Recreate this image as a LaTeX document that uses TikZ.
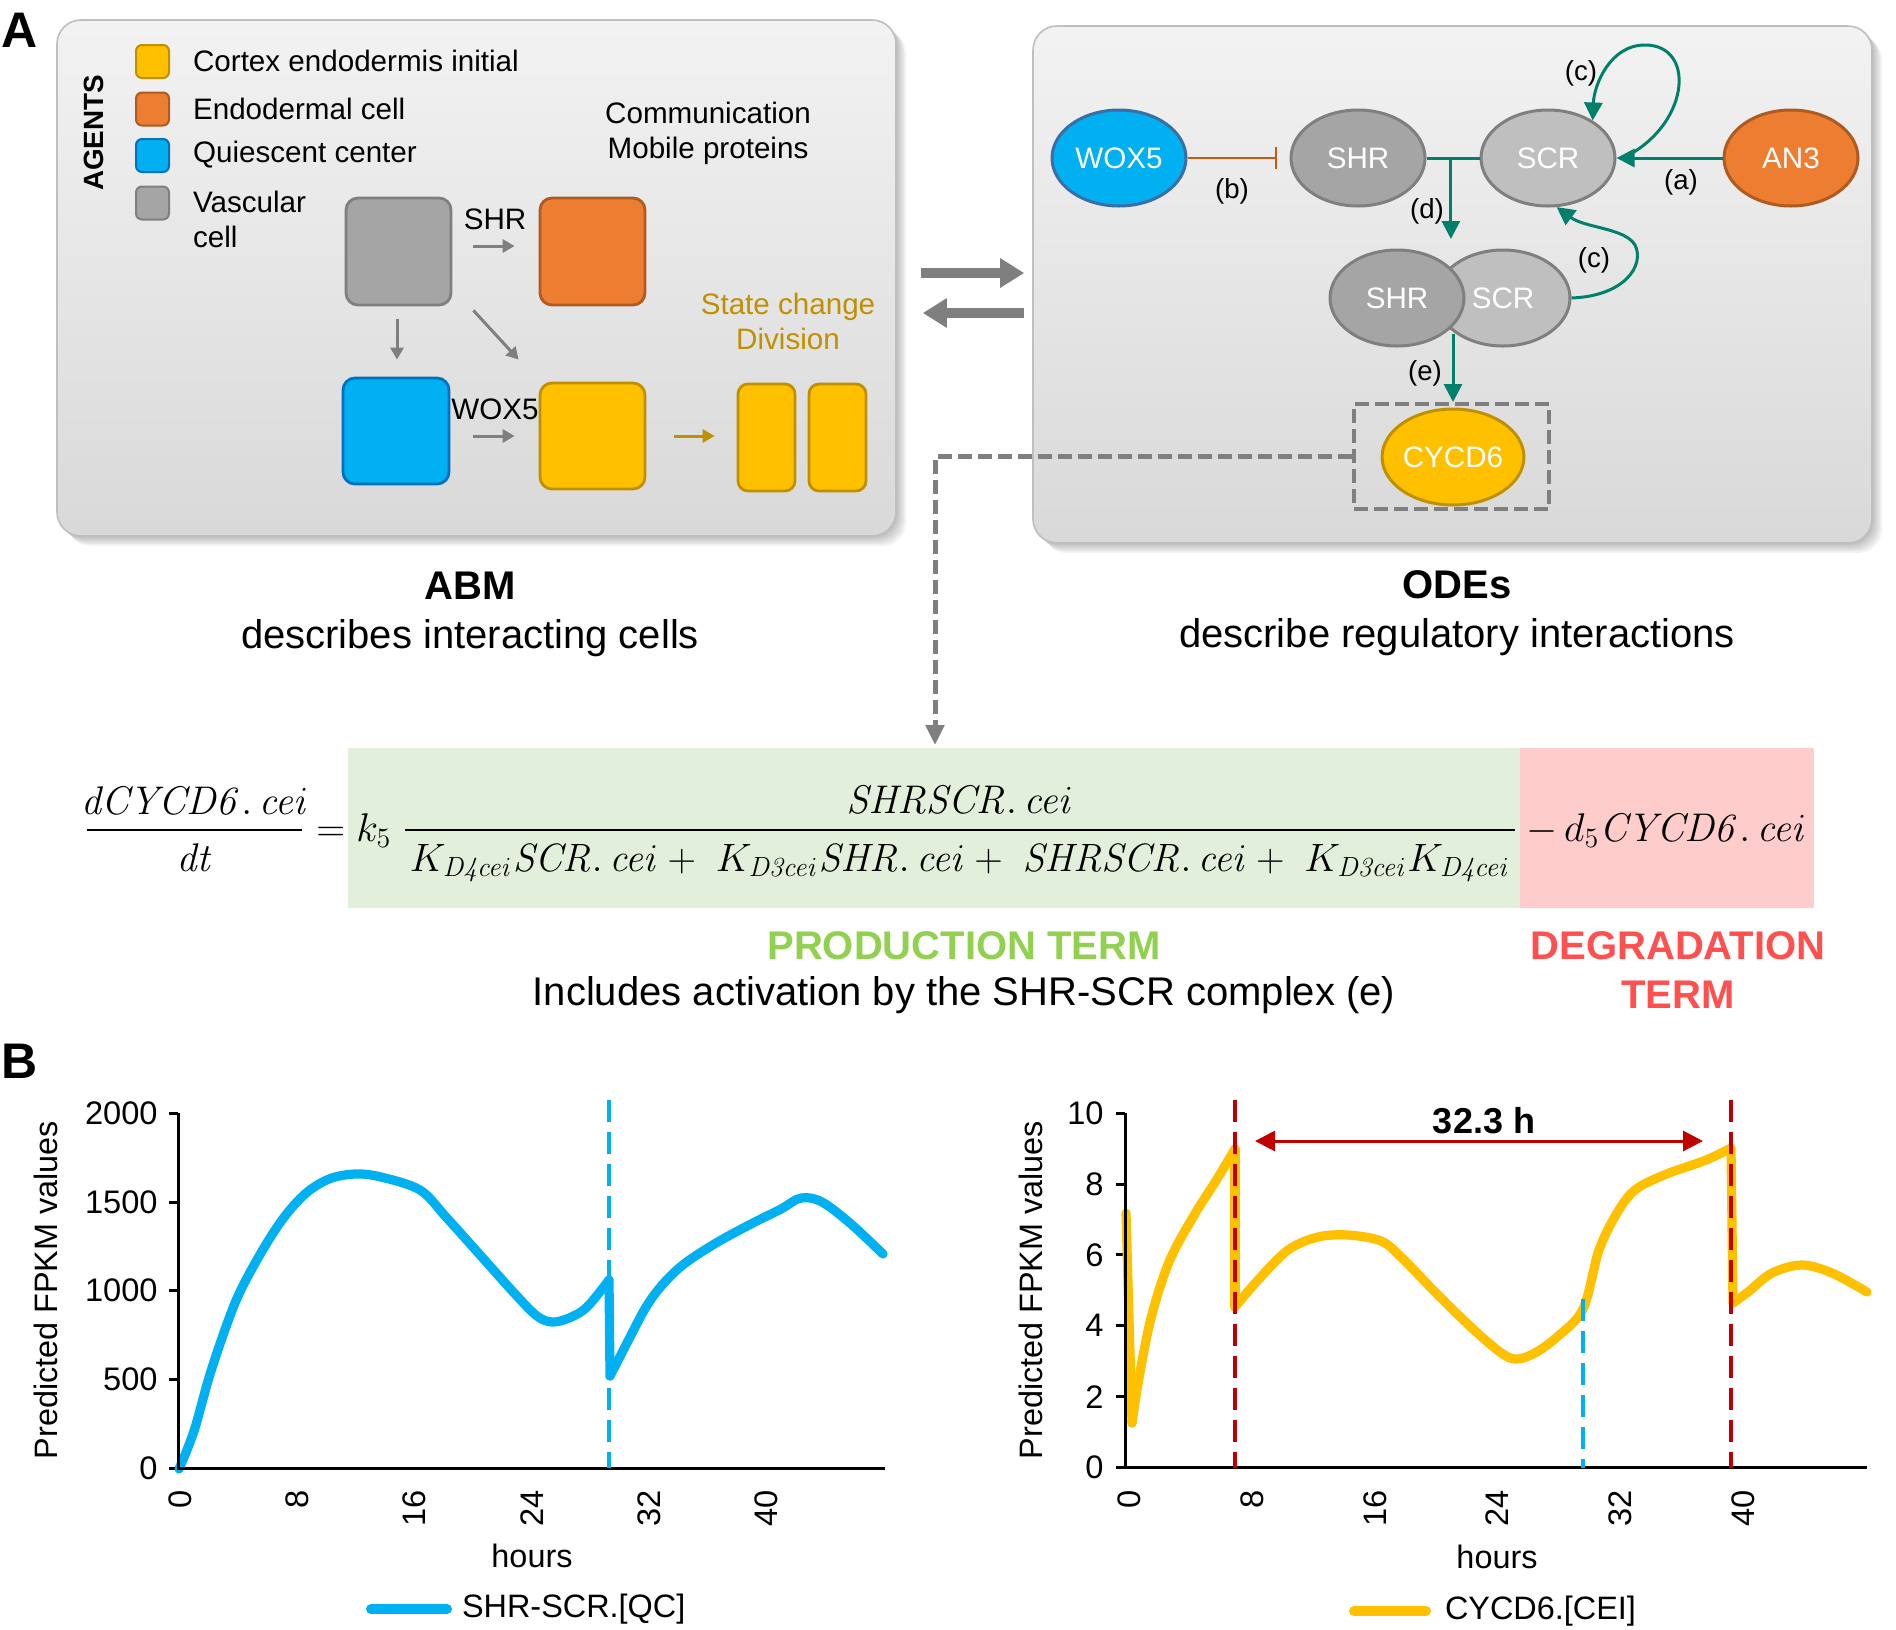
\RequirePackage{fix-cm}
\documentclass[tikz,border=0pt]{standalone}
\usepackage[no-math]{fontspec}
\setmainfont{Liberation Sans}
\usepackage{graphicx}
\usetikzlibrary{arrows.meta,shapes.geometric,calc}
\definecolor{cblue}{HTML}{00B0F0}
\definecolor{cblueD}{HTML}{3A6EA5}
\definecolor{cblueC}{HTML}{0070C0}
\definecolor{cyell}{HTML}{FFC000}
\definecolor{cyellD}{HTML}{BF9000}
\definecolor{corng}{HTML}{ED7D31}
\definecolor{corngD}{HTML}{AE5A21}
\definecolor{cgrey}{HTML}{A5A5A5}
\definecolor{cgreyL}{HTML}{BFBFBF}
\definecolor{cgreyD}{HTML}{7F7F7F}
\definecolor{cteal}{HTML}{00806B}
\definecolor{cbrown}{HTML}{C55A11}
\definecolor{cgold}{HTML}{BF9000}
\definecolor{cgreenbg}{HTML}{E2EFDA}
\definecolor{cpinkbg}{HTML}{FFCCCC}
\definecolor{cgreenT}{HTML}{92D050}
\definecolor{credT}{HTML}{FF5050}
\definecolor{cdred}{HTML}{C00000}
\newcommand{\dt}[2]{\mathit{#1}.\,\mathit{#2}}
\tikzset{
 f15/.style={font=\fontsize{14.8}{17.5}\selectfont},
 f16/.style={font=\fontsize{16.2}{19}\selectfont},
 tick/.style={font=\fontsize{16.3}{19}\selectfont, inner sep=2pt},
 f20/.style={font=\fontsize{20}{24.5}\selectfont},
 f20b/.style={font=\fontsize{20}{24.5}\selectfont\bfseries},
 lab/.style={font=\fontsize{13.8}{16}\selectfont},
 eq/.style={font=\fontsize{20}{24}\selectfont, inner sep=0pt},
 panel/.style={draw=cgreyL, line width=0.8pt, rounded corners=12pt, top color=black!5, bottom color=black!15},
 shadowlayer/.style={fill=black, opacity=0.05, rounded corners=12pt},
 cell/.style={draw, line width=1.4pt, rounded corners=6pt, inner sep=0pt},
 lsq/.style={draw, line width=1pt, rounded corners=3pt, minimum width=16.5pt, minimum height=16.5pt, inner sep=0pt},
 garr/.style={draw=cgreyD, line width=1.5pt, -{Triangle[length=6pt,width=6.5pt]}},
 bigarr/.style={draw=cgreyD, line width=5pt, -{Triangle[length=12pt,width=14pt]}},
 gene/.style={ellipse, draw, line width=1.5pt, minimum width=67pt, minimum height=48pt, inner sep=0pt, text=white, f15},
 tarr/.style={draw=cteal, line width=1.5pt, -{Triangle[length=9pt,width=9pt]}},
 gdash/.style={draw=cgreyD, line width=2.5pt, dash pattern=on 7pt off 3pt, -{Triangle[length=10pt,width=9pt]}},
 axisline/.style={draw=black, line width=1.5pt},
 bcurve/.style={draw=cblue, line width=4.6pt, line cap=round, line join=round},
 ycurve/.style={draw=cyell, line width=4.6pt, line cap=round, line join=round},
 vdash/.style={line width=2pt, dash pattern=on 11pt off 5pt},
}
\begin{document}
\begin{tikzpicture}[x=0.5pt,y=-0.5pt]
\fill[white] (0,0) rectangle (1896,1629);
\useasboundingbox (0,0) rectangle (1896,1629);

% soft shadows of the two panels
\foreach \s in {2,4,6,8,10}{
  \fill[shadowlayer] (57+\s,20+\s) rectangle (896+\s,536+\s);
  \fill[shadowlayer] (1033+\s,26+\s) rectangle (1872+\s,543+\s);
}

% ---------------- Panel A ----------------
\node[font=\fontsize{25}{30}\selectfont\bfseries] (lA) at (19.5,30) {A};
\node[panel, minimum width=419.5pt, minimum height=258pt] (pA) at (476.5,278) {};
\node[panel, minimum width=419.5pt, minimum height=258.5pt] (pB) at (1452.5,284.5) {};

% legend
\node[font=\fontsize{13.9}{16}\selectfont\bfseries, rotate=90] (agents) at (94,133) {AGENTS};
\node[lsq, fill=cyell, draw=cyellD] (l1) at (152.5,61.5) {};
\node[lsq, fill=corng, draw=corngD] (l2) at (152.5,109) {};
\node[lsq, fill=cblue, draw=cblueC] (l3) at (152.5,155.5) {};
\node[lsq, fill=cgrey, draw=cgreyD] (l4) at (152.5,203) {};
\node[f15, anchor=west] (t1) at (186,61) {Cortex endodermis initial};
\node[f15, anchor=west] (t2) at (186,109) {Endodermal cell};
\node[f15, anchor=west] (t3) at (186,155) {Quiescent center};
\node[f15, anchor=west, align=left] (t4) at (186,219.5) {Vascular\\cell};
\node[f15, align=center] (comm) at (708,133.5) {Communication\\Mobile proteins};

% cells
\node[cell, fill=cgrey, draw=cgreyD, minimum width=52.5pt, minimum height=53.5pt] (vg) at (398.5,251.5) {};
\node[cell, fill=corng, draw=corngD, minimum width=52.5pt, minimum height=53.5pt] (en) at (592.5,251.5) {};
\node[cell, fill=cblue, draw=cblueC, minimum width=53pt, minimum height=53pt] (qc) at (396,431) {};
\node[cell, fill=cyell, draw=cyellD, minimum width=52.5pt, minimum height=53pt] (cei) at (592.5,436) {};
\node[cell, fill=cyell, draw=cyellD, minimum width=28.5pt, minimum height=53.5pt, rounded corners=5pt] (d1) at (766.5,437.5) {};
\node[cell, fill=cyell, draw=cyellD, minimum width=28.5pt, minimum height=53.5pt, rounded corners=5pt] (d2) at (837.5,437.5) {};
\node[f15] (shrlab) at (495,219) {SHR};
\node[f15] (woxlab) at (495,409) {WOX5};
\node[f15, text=cgold, align=center] (state) at (788,321.5) {State change\\Division};
\draw[garr] ($(vg.east)+(21,-5.5)$) -- ($(en.west)+(-24,-5.5)$);
\draw[garr] ($(vg.south)+(-1.5,13)$) -- ($(qc.north)+(1,-17)$);
\draw[garr] ($(vg.south east)+(21,4)$) -- ($(cei.north west)+(-20,-22)$);
\draw[garr] ($(qc.east)+(23,5)$) -- ($(cei.west)+(-24,0)$);
\draw[draw=cgold, line width=1.5pt, -{Triangle[length=6pt,width=6.5pt]}] ($(cei.east)+(28,0)$) -- ($(d1.west)+(-22,-1.5)$);

% arrows between panels
\draw[bigarr] ($(pA.east)+(24,-5)$) -- ($(pB.west)+(-8,-11.5)$);
\draw[bigarr] ($(pB.west)+(-8,28.5)$) -- ($(pA.east)+(26,35)$);

% ---------------- Panel ODE ----------------
\node[gene, fill=cblue, draw=cblueD] (wox) at (1119,158) {WOX5};
\node[gene, fill=cgrey, draw=cgreyD] (shr) at (1358,158) {SHR};
\node[gene, fill=cgreyL, draw=cgreyD] (scr) at (1548,158) {SCR};
\node[gene, fill=corng, draw=corngD] (an3) at (1791,158) {AN3};
\node[gene, fill=cgreyL, draw=cgreyD] (scr2) at (1503,298) {SCR};
\node[gene, fill=cgrey, draw=cgreyD] (shr2) at (1397,298) {SHR};
\node[gene, fill=cyell, draw=cyellD] (cyc) at (1453,457) {CYCD6};
\node[draw=cgreyD, dash pattern=on 7pt off 3pt, line width=2pt, minimum width=97.5pt, minimum height=52.5pt] (dbox) at (1451.5,456.5) {};

\draw[draw=cbrown, line width=1pt, -{Bar[width=11pt]}] (wox.east) -- ($(shr.west)+(-13,0)$);
\draw[draw=cteal, line width=1.5pt] (shr.east) -- (scr.west);
\coordinate (dj) at ($(shr.east)!0.46!(scr.west)$);
\draw[tarr] (dj) -- ++(0,81);
\draw[tarr] (an3.west) -- (scr.east);
\draw[tarr] ($(scr.east)+(14,-4)$) .. controls (1690,120) and (1695,45) .. (1645,45) .. controls (1610,45) and (1594,85) .. (scr.40);
\draw[tarr] (scr2.east) .. controls (1625,296) and (1645,265) .. (1635,245) .. controls (1625,228) and (1585,228) .. (scr.-80);
\coordinate (ej) at (1453,334);
\draw[tarr] (ej) -- (ej |- dbox.north);
\node[lab] (la) at (1681,182) {(a)};
\node[lab] (lb) at (1232,191) {(b)};
\node[lab] (lc1) at (1581,73) {(c)};
\node[lab] (lc2) at (1594,260) {(c)};
\node[lab] (ld) at (1427,211) {(d)};
\node[lab] (le) at (1425,373) {(e)};

% captions
\node[f20, align=center] (abm) at (470,614) {\textbf{ABM}\\describes interacting cells};
\node[f20, align=center] (odes) at (1457,613) {\textbf{ODEs}\\describe regulatory interactions};

% ---------------- Equation ----------------
\fill[cgreenbg] (348,748) rectangle (1520,908);
\fill[cpinkbg] (1520,748) rectangle (1814,908);
\coordinate (eqin) at (935,745);
\draw[gdash] (dbox.west) -| (eqin);

\node[eq, anchor=base] (lnum) at (195,814) {$\dt{dCYCD6}{cei}$};
\node[eq, anchor=base] (lden) at (195,871) {$\mathit{dt}$};
\draw[line width=1.2pt] (87,830) -- (302,830);
\node[eq, anchor=base west] (eqk) at (316,841) {$=k_5$};
\node[eq, anchor=base] (bnum) at (960,813) {$\dt{SHRSCR}{cei}$};
\node[eq, anchor=base] (bden) at (960,871) {\resizebox{550pt}{!}{$K_{\mathit{D4cei}}\dt{SCR}{cei}+\;K_{\mathit{D3cei}}\dt{SHR}{cei}+\;\dt{SHRSCR}{cei}+\;K_{\mathit{D3cei}}K_{\mathit{D4cei}}$}};
\draw[line width=1.2pt] (405,830) -- (1515,830);
\node[eq, anchor=base west] (deg) at (1526,841) {$-\,d_5\dt{CYCD6}{cei}$};

\node[f20b, text=cgreenT] (prod) at (964,946) {PRODUCTION TERM};
\node[f20] (incl) at (964,995) {Includes activation by the SHR-SCR complex (e)};
\node[f20b, text=credT, align=center] (degr) at (1678,970.5) {DEGRADATION\\TERM};

% ---------------- Panel B ----------------
\node[font=\fontsize{25}{30}\selectfont\bfseries] (lB) at (19.5,1061) {B};

% left chart
\foreach \v/\y in {0/1468,500/1379,1000/1290.5,1500/1202,2000/1113}{
  \draw[axisline] (169,\y) -- (178,\y);
  \node[tick, anchor=east] at (162,\y) {\v};
}
\foreach \h/\x in {0/180,8/297,16/414,24/532,32/649,40/766}{
  \node[tick, rotate=90, anchor=east] at (\x,1486) {\h};
}
\node[f16, rotate=90] (ylabL) at (46,1290) {Predicted FPKM values};
\node[f16] (hoursL) at (532,1556) {hours};
\draw[bcurve] plot[smooth, tension=0.55] coordinates {(179,1469) (194,1431) (211,1371) (235,1303) (258,1258) (282,1220) (305,1194) (329,1179) (355,1174) (381,1177) (420,1190) (446,1217) (481,1256) (516,1295) (537,1316) (552,1322) (569,1318) (587,1307) (609,1280)};
\draw[bcurve] (609,1280) -- (610,1376);
\draw[bcurve] plot[smooth, tension=0.55] coordinates {(610,1376) (628,1341) (646,1307) (663,1284) (684,1264) (716,1243) (751,1224) (781,1209) (801,1198) (822,1202) (851,1224) (883,1254)};
\draw[axisline] (178,1113) -- (178,1468) -- (885,1468);
\draw[vdash, draw=cblue] (609,1100) -- (609,1468);
\draw[bcurve, line width=5pt] (371,1609) -- (447,1609);
\node[f16, anchor=west] (legL) at (455,1609) {SHR-SCR.[QC]};

% right chart
\foreach \v/\y in {0/1467.5,2/1396.6,4/1325.7,6/1254.9,8/1184,10/1113}{
  \draw[axisline] (1116,\y) -- (1125,\y);
  \node[tick, anchor=east] at (1108,\y) {\v};
}
\foreach \h/\x in {0/1129,8/1252,16/1375,24/1497,32/1620,40/1743}{
  \node[tick, rotate=90, anchor=east] at (\x,1486) {\h};
}
\node[f16, rotate=90] (ylabR) at (1031,1290) {Predicted FPKM values};
\node[f16] (hoursR) at (1497,1557) {hours};
\draw[ycurve] (1126,1213) -- (1132,1423);
\draw[ycurve] plot[smooth, tension=0.55] coordinates {(1132,1423) (1139,1378) (1151,1318) (1169,1262) (1193,1217) (1217,1179) (1235,1149)};
\draw[ycurve] (1235,1149) -- (1235,1307);
\draw[ycurve] plot[smooth, tension=0.55] coordinates {(1235,1307) (1258,1280) (1288,1250) (1318,1237) (1348,1235) (1381,1241) (1402,1258) (1438,1295) (1473,1329) (1500,1352) (1515,1359) (1533,1354) (1557,1337) (1583,1309) (1599,1250) (1617,1213) (1635,1190) (1664,1175) (1706,1160) (1731,1148)};
\draw[ycurve] (1731,1148) -- (1733,1303);
\draw[ycurve] plot[smooth, tension=0.55] coordinates {(1733,1303) (1748,1292) (1772,1273) (1802,1265) (1832,1273) (1867,1292)};
\draw[axisline] (1125,1113) -- (1125,1467.5) -- (1867,1467.5);
\draw[vdash, draw=cdred] (1235,1100) -- (1235,1467.5);
\draw[vdash, draw=cdred] (1731,1100) -- (1731,1467.5);
\draw[vdash, draw=cblue] (1583,1299) -- (1583,1467.5);
\coordinate (pl) at (1255,1141);
\coordinate (pr) at (1703,1141);
\draw[draw=cdred, line width=1.5pt, {Triangle[length=10pt,width=10pt]}-{Triangle[length=10pt,width=10pt]}] (pl) -- (pr);
\node[font=\fontsize{18}{21}\selectfont\bfseries] (per) at (1484,1121) {32.3 h};
\draw[ycurve, line width=5pt] (1354,1611) -- (1426,1611);
\node[f16, anchor=west] (legR) at (1438,1611) {CYCD6.[CEI]};
\end{tikzpicture}
\end{document}
